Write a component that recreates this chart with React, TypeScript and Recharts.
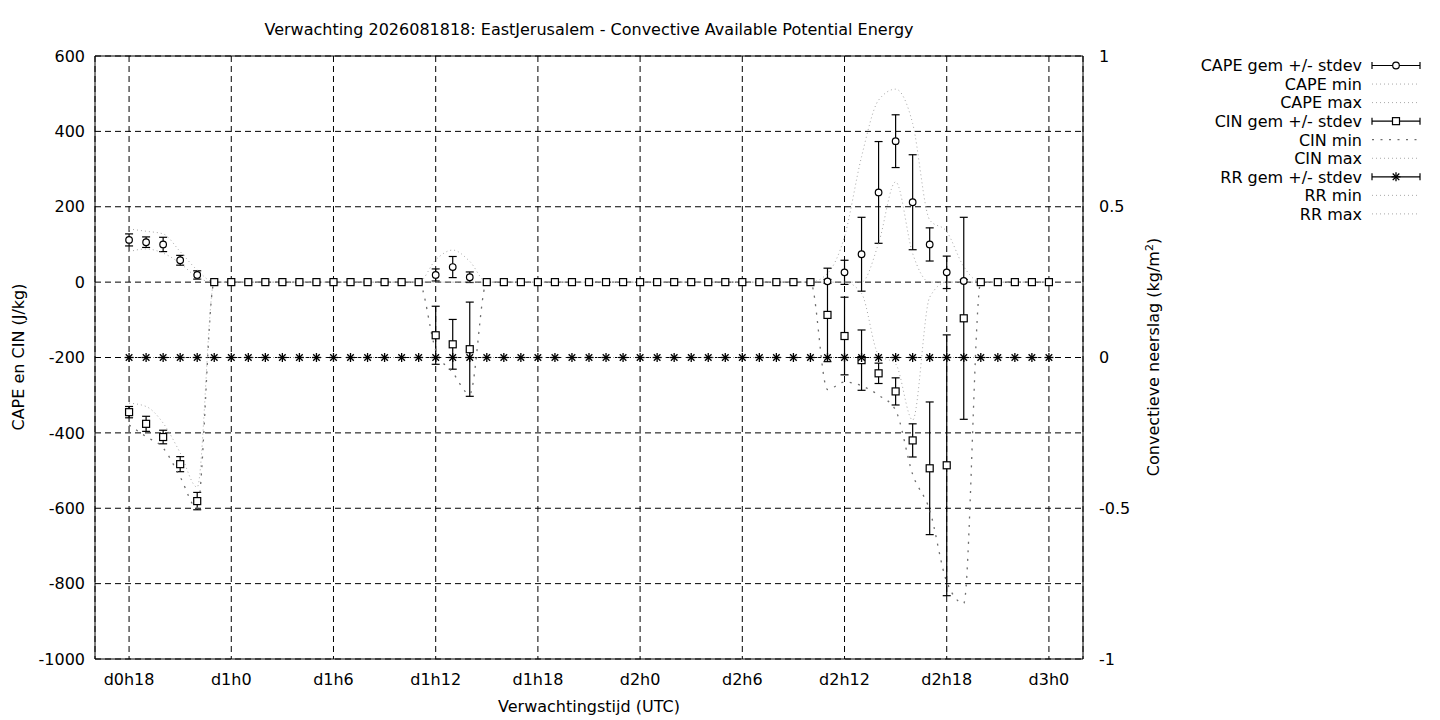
import React from "react";
import { CartesianGrid, ComposedChart, ErrorBar, Line, ReferenceArea, Scatter, XAxis, YAxis } from "recharts";

// forecast hours since d0h0
const hours = [
  18, 19, 20, 21, 22, 23, 24, 25, 26, 27, 28, 29, 30, 31, 32, 33, 34, 35, 36, 37, 38, 39, 40, 41, 42, 43, 44,
  45, 46, 47, 48, 49, 50, 51, 52, 53, 54, 55, 56, 57, 58, 59, 60, 61, 62, 63, 64, 65, 66, 67, 68, 69, 70, 71, 72,
];

const xTicks = [18, 24, 30, 36, 42, 48, 54, 60, 66, 72];
const xTickLabels = ["d0h18", "d1h0", "d1h6", "d1h12", "d1h18", "d2h0", "d2h6", "d2h12", "d2h18", "d3h0"];
const capeTicks = [-1000, -800, -600, -400, -200, 0, 200, 400, 600];
const rrTicks = [-1, -0.5, 0, 0.5, 1];

// CAPE (J/kg)
const capeMean = [
  112, 106, 100, 58, 19,
  0, 0, 0, 0, 0, 0, 0, 0, 0, 0, 0, 0, 0,
  19, 40, 13,
  0, 0, 0, 0, 0, 0, 0, 0, 0, 0, 0, 0, 0, 0, 0, 0, 0, 0, 0, 0,
  2, 26, 74, 238, 374, 212, 100, 26, 3,
  0, 0, 0, 0, 0,
];
const capeSd = [
  16, 14, 19, 13, 11,
  0, 0, 0, 0, 0, 0, 0, 0, 0, 0, 0, 0, 0,
  16, 28, 14,
  0, 0, 0, 0, 0, 0, 0, 0, 0, 0, 0, 0, 0, 0, 0, 0, 0, 0, 0, 0,
  5, 32, 98, 135, 70, 126, 44, 43, 4,
  0, 0, 0, 0, 0,
];
const capeMin = [
  81, 88, 77, 50, 13,
  0, 0, 0, 0, 0, 0, 0, 0, 0, 0, 0, 0, 0,
  0, 0, 0,
  0, 0, 0, 0, 0, 0, 0, 0, 0, 0, 0, 0, 0, 0, 0, 0, 0, 0, 0, 0,
  0, 0, 0, 103, 266, 76, 0, 0, 0,
  0, 0, 0, 0, 0,
];
const capeMax = [
  141, 135, 128, 81, 32,
  0, 0, 0, 0, 0, 0, 0, 0, 0, 0, 0, 0, 0,
  59, 85, 55,
  0, 0, 0, 0, 0, 0, 0, 0, 0, 0, 0, 0, 0, 0, 0, 0, 0, 0, 0, 0,
  23, 121, 333, 483, 512, 421, 165, 134, 41,
  0, 0, 0, 0, 0,
];

// CIN (J/kg)
const cinMean = [
  -345, -376, -411, -483, -581,
  0, 0, 0, 0, 0, 0, 0, 0, 0, 0, 0, 0, 0,
  -141, -165, -178,
  0, 0, 0, 0, 0, 0, 0, 0, 0, 0, 0, 0, 0, 0, 0, 0, 0, 0, 0, 0,
  -87, -143, -207, -242, -290, -420, -494, -486, -96,
  0, 0, 0, 0, 0,
];
const cinSd = [
  15, 20, 18, 20, 23,
  0, 0, 0, 0, 0, 0, 0, 0, 0, 0, 0, 0, 0,
  77, 66, 125,
  0, 0, 0, 0, 0, 0, 0, 0, 0, 0, 0, 0, 0, 0, 0, 0, 0, 0, 0, 0,
  124, 103, 80, 27, 36, 44, 176, 346, 268,
  0, 0, 0, 0, 0,
];
const cinMin = [
  -379, -410, -440, -517, -600,
  0, 0, 0, 0, 0, 0, 0, 0, 0, 0, 0, 0, 0,
  -180, -240, -297,
  0, 0, 0, 0, 0, 0, 0, 0, 0, 0, 0, 0, 0, 0, 0, 0, 0, 0, 0, 0,
  -285, -265, -275, -300, -340, -510, -605, -795, -852,
  0, 0, 0, 0, 0,
];
const cinMax = [
  -321, -330, -374, -453, -544,
  0, 0, 0, 0, 0, 0, 0, 0, 0, 0, 0, 0, 0,
  0, 0, 0,
  0, 0, 0, 0, 0, 0, 0, 0, 0, 0, 0, 0, 0, 0, 0, 0, 0, 0, 0, 0,
  0, 0, -30, -193, -217, -366, -40, 0, 0,
  0, 0, 0, 0, 0,
];

// convective precipitation (kg/m2): zero over the whole run
const rrMean = [
  0, 0, 0, 0, 0, 0, 0, 0, 0, 0, 0, 0, 0, 0, 0, 0, 0, 0, 0, 0, 0, 0, 0, 0, 0, 0, 0,
  0, 0, 0, 0, 0, 0, 0, 0, 0, 0, 0, 0, 0, 0, 0, 0, 0, 0, 0, 0, 0, 0, 0, 0, 0, 0, 0, 0,
];
const rrSd = [
  0, 0, 0, 0, 0, 0, 0, 0, 0, 0, 0, 0, 0, 0, 0, 0, 0, 0, 0, 0, 0, 0, 0, 0, 0, 0, 0,
  0, 0, 0, 0, 0, 0, 0, 0, 0, 0, 0, 0, 0, 0, 0, 0, 0, 0, 0, 0, 0, 0, 0, 0, 0, 0, 0, 0,
];
const rrMin = [
  0, 0, 0, 0, 0, 0, 0, 0, 0, 0, 0, 0, 0, 0, 0, 0, 0, 0, 0, 0, 0, 0, 0, 0, 0, 0, 0,
  0, 0, 0, 0, 0, 0, 0, 0, 0, 0, 0, 0, 0, 0, 0, 0, 0, 0, 0, 0, 0, 0, 0, 0, 0, 0, 0, 0,
];
const rrMax = [
  0, 0, 0, 0, 0, 0, 0, 0, 0, 0, 0, 0, 0, 0, 0, 0, 0, 0, 0, 0, 0, 0, 0, 0, 0, 0, 0,
  0, 0, 0, 0, 0, 0, 0, 0, 0, 0, 0, 0, 0, 0, 0, 0, 0, 0, 0, 0, 0, 0, 0, 0, 0, 0, 0, 0,
];

const data = hours.map((hour, i) => ({
  hour,
  cape: capeMean[i],
  capeSd: capeSd[i],
  capeMin: capeMin[i],
  capeMax: capeMax[i],
  cin: cinMean[i],
  cinSd: cinSd[i],
  cinMin: cinMin[i],
  cinMax: cinMax[i],
  rr: rrMean[i],
  rrSd: rrSd[i],
  rrMin: rrMin[i],
  rrMax: rrMax[i],
}));

const FONT = "'DejaVu Sans', sans-serif";
const lightDots = { stroke: "#a8a8a8", strokeWidth: 1, strokeDasharray: "1 3" };
const darkDots = { stroke: "#6e6e6e", strokeWidth: 1.3, strokeDasharray: "2 6.5" };

function OpenCircle({ cx, cy }: any) {
  if (cx == null || cy == null) return null;
  return <circle cx={cx} cy={cy} r={3.3} fill="#fff" stroke="#000" strokeWidth={1.2} />;
}

function OpenSquare({ cx, cy }: any) {
  if (cx == null || cy == null) return null;
  return <rect x={cx - 3.5} y={cy - 3.5} width={7} height={7} fill="#fff" stroke="#000" strokeWidth={1.2} />;
}

function Star({ cx, cy }: any) {
  if (cx == null || cy == null) return null;
  const s = 4.5;
  const d = 3.3;
  return (
    <g stroke="#000" strokeWidth={1.3}>
      <line x1={cx - s} y1={cy} x2={cx + s} y2={cy} />
      <line x1={cx} y1={cy - s} x2={cx} y2={cy + s} />
      <line x1={cx - d} y1={cy - d} x2={cx + d} y2={cy + d} />
      <line x1={cx - d} y1={cy + d} x2={cx + d} y2={cy - d} />
    </g>
  );
}

const legendRows = [
  { label: "CAPE gem +/- stdev", marker: OpenCircle },
  { label: "CAPE min", dots: lightDots },
  { label: "CAPE max", dots: lightDots },
  { label: "CIN gem +/- stdev", marker: OpenSquare },
  { label: "CIN min", dots: darkDots },
  { label: "CIN max", dots: lightDots },
  { label: "RR gem +/- stdev", marker: Star },
  { label: "RR min", dots: lightDots },
  { label: "RR max", dots: lightDots },
];

function Overlay() {
  const x0 = 1372;
  const x1 = 1420;
  return (
    <svg width={1440} height={720} style={{ position: "absolute", left: 0, top: 0, pointerEvents: "none" }}>
      <g fontFamily={FONT} fontSize={16} fill="#000">
        <text x={589} y={35} textAnchor="middle">
          Verwachting 2026081818: EastJerusalem - Convective Available Potential Energy
        </text>
        <text x={589} y={712} textAnchor="middle">
          Verwachtingstijd (UTC)
        </text>
        <text transform="translate(24,357) rotate(-90)" textAnchor="middle">
          CAPE en CIN (J/kg)
        </text>
        <text transform="translate(1159,357) rotate(-90)" textAnchor="middle">
          Convectieve neerslag (kg/m<tspan dy={-6} fontSize={11}>2</tspan>
          <tspan dy={6}>)</tspan>
        </text>
        {legendRows.map((row, i) => {
          const y = 65.5 + i * 18.55;
          const M = row.marker;
          return (
            <g key={row.label}>
              <text x={1362} y={y + 5.8} textAnchor="end">
                {row.label}
              </text>
              {M ? (
                <g stroke="#000" strokeWidth={1.2}>
                  <line x1={x0} y1={y} x2={x1} y2={y} />
                  <line x1={x0} y1={y - 3.5} x2={x0} y2={y + 3.5} />
                  <line x1={x1} y1={y - 3.5} x2={x1} y2={y + 3.5} />
                  <M cx={(x0 + x1) / 2} cy={y} />
                </g>
              ) : (
                <line x1={x0} y1={y} x2={x1} y2={y} {...row.dots} />
              )}
            </g>
          );
        })}
      </g>
    </svg>
  );
}

export default function App() {
  const tick = { fill: "#000", fontSize: 16, fontFamily: FONT };
  return (
    <div style={{ position: "absolute", left: 0, top: 0, width: 1440, height: 720, background: "#fff" }}>
      <ComposedChart
        width={1440}
        height={720}
        data={data}
        margin={{ top: 56, right: 267, bottom: 0, left: 0 }}
        style={{ fontFamily: FONT }}
      >
        <CartesianGrid yAxisId="cape" stroke="#000" strokeDasharray="6 4" strokeWidth={1} />
        <XAxis
          dataKey="hour"
          type="number"
          domain={[16, 74]}
          ticks={xTicks}
          tickFormatter={(v) => xTickLabels[xTicks.indexOf(v)]}
          height={61}
          tickLine={false}
          axisLine={false}
          tickSize={0}
          tickMargin={15}
          tick={tick}
          interval={0}
        />
        <YAxis
          yAxisId="cape"
          type="number"
          domain={[-1000, 600]}
          ticks={capeTicks}
          width={95}
          tickLine={false}
          axisLine={false}
          tickSize={0}
          tickMargin={10}
          tick={tick}
          interval={0}
        />
        <YAxis
          yAxisId="rr"
          orientation="right"
          type="number"
          domain={[-1, 1]}
          ticks={rrTicks}
          width={90}
          tickLine={false}
          axisLine={false}
          tickSize={0}
          tickMargin={16}
          tick={tick}
          interval={0}
        />

        <Scatter yAxisId="cape" dataKey="cape" shape={OpenCircle} isAnimationActive={false}>
          <ErrorBar dataKey="capeSd" direction="y" width={4} stroke="#000" strokeWidth={1.2} />
        </Scatter>
        <Line yAxisId="cape" dataKey="capeMin" type="monotone" dot={false} activeDot={false} {...lightDots} isAnimationActive={false} />
        <Line yAxisId="cape" dataKey="capeMax" type="monotone" dot={false} activeDot={false} {...lightDots} isAnimationActive={false} />

        <Scatter yAxisId="cape" dataKey="cin" shape={OpenSquare} isAnimationActive={false}>
          <ErrorBar dataKey="cinSd" direction="y" width={4} stroke="#000" strokeWidth={1.2} />
        </Scatter>
        <Line yAxisId="cape" dataKey="cinMin" type="monotone" dot={false} activeDot={false} {...darkDots} isAnimationActive={false} />
        <Line yAxisId="cape" dataKey="cinMax" type="monotone" dot={false} activeDot={false} {...lightDots} isAnimationActive={false} />

        <Scatter yAxisId="rr" dataKey="rr" shape={Star} isAnimationActive={false}>
          <ErrorBar dataKey="rrSd" direction="y" width={4} stroke="#000" strokeWidth={1.2} />
        </Scatter>
        <Line yAxisId="rr" dataKey="rrMin" type="monotone" dot={false} activeDot={false} {...lightDots} isAnimationActive={false} />
        <Line yAxisId="rr" dataKey="rrMax" type="monotone" dot={false} activeDot={false} {...lightDots} isAnimationActive={false} />

        <ReferenceArea
          yAxisId="cape"
          x1={16}
          x2={74}
          y1={-1000}
          y2={600}
          fill="none"
          stroke="#000"
          strokeWidth={1}
          ifOverflow="visible"
        />
      </ComposedChart>
      <Overlay />
    </div>
  );
}
